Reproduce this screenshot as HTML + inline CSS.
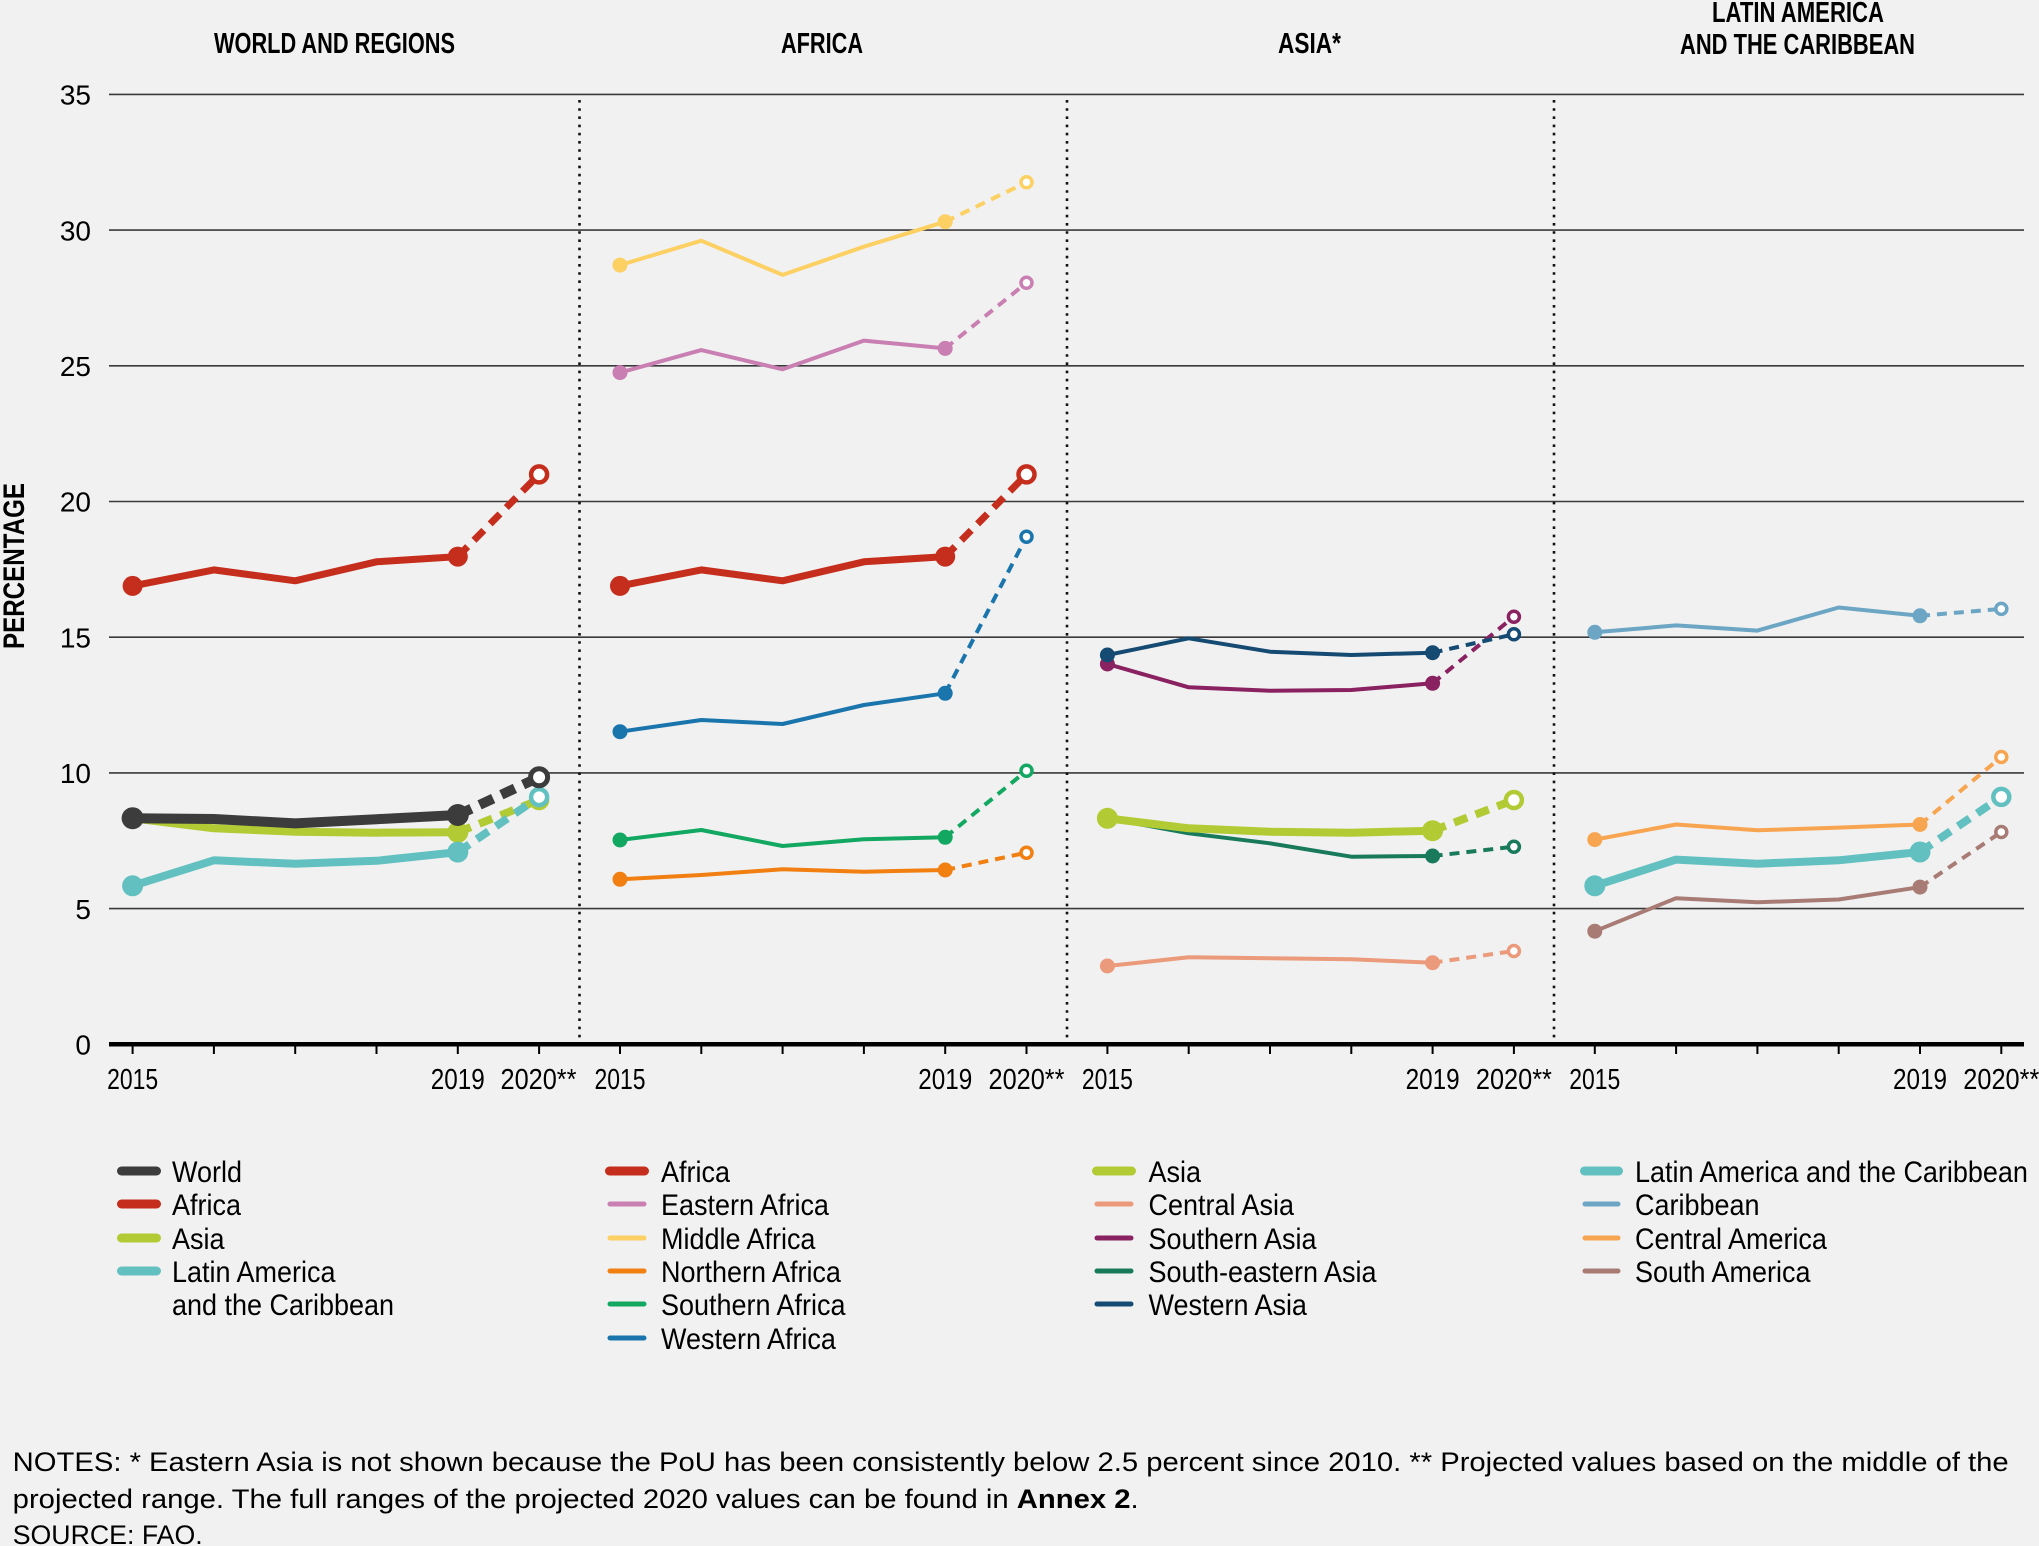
<!DOCTYPE html>
<html>
<head>
<meta charset="utf-8">
<style>
  html,body{margin:0;padding:0;background:#f1f1f1;}
  svg{display:block;}
  text{font-family:"Liberation Sans", Arial, sans-serif;fill:#000;}
</style>
</head>
<body>
<svg width="2039" height="1546" viewBox="0 0 2039 1546" xmlns="http://www.w3.org/2000/svg">
  <rect x="0" y="0" width="2039" height="1546" fill="#f1f1f1"/>

  <!-- Titles -->
  <g font-weight="bold" font-size="29">
    <text x="214" y="53" textLength="241" lengthAdjust="spacingAndGlyphs">WORLD AND REGIONS</text>
    <text x="781" y="53" textLength="82" lengthAdjust="spacingAndGlyphs">AFRICA</text>
    <text x="1278" y="53" textLength="63" lengthAdjust="spacingAndGlyphs">ASIA*</text>
    <text x="1712" y="22" textLength="172" lengthAdjust="spacingAndGlyphs">LATIN AMERICA</text>
    <text x="1680" y="54" textLength="235" lengthAdjust="spacingAndGlyphs">AND THE CARIBBEAN</text>
  </g>

  <!-- Y axis title -->
  <text transform="translate(24,566) rotate(-90)" x="-83" y="0" font-weight="bold" font-size="30" textLength="166" lengthAdjust="spacingAndGlyphs">PERCENTAGE</text>

  <!-- Gridlines -->
  <g stroke="#3a3a3a" stroke-width="1.6">
    <line x1="109" y1="94.4" x2="2024" y2="94.4"/>
    <line x1="109" y1="230.1" x2="2024" y2="230.1"/>
    <line x1="109" y1="365.8" x2="2024" y2="365.8"/>
    <line x1="109" y1="501.5" x2="2024" y2="501.5"/>
    <line x1="109" y1="637.2" x2="2024" y2="637.2"/>
    <line x1="109" y1="772.9" x2="2024" y2="772.9"/>
    <line x1="109" y1="908.6" x2="2024" y2="908.6"/>
  </g>

  <!-- Y labels -->
  <g font-size="28" text-anchor="end">
    <text x="91" y="104.6">35</text>
    <text x="91" y="240.3">30</text>
    <text x="91" y="376">25</text>
    <text x="91" y="511.7">20</text>
    <text x="91" y="647.4">15</text>
    <text x="91" y="783.1">10</text>
    <text x="91" y="918.8">5</text>
    <text x="91" y="1054.5">0</text>
  </g>

  <!-- Dotted separators -->
  <g stroke="#111" stroke-width="2.6" stroke-dasharray="2.6 5.6">
    <line x1="579.5" y1="100" x2="579.5" y2="1038"/>
    <line x1="1067" y1="100" x2="1067" y2="1038"/>
    <line x1="1554" y1="100" x2="1554" y2="1038"/>
  </g>

  <!-- Axis -->
  <line x1="109" y1="1044.3" x2="2024" y2="1044.3" stroke="#000" stroke-width="4.5"/>
  <g stroke="#000" stroke-width="2">
    <line x1="132.6" y1="1044" x2="132.6" y2="1054"/><line x1="213.9" y1="1044" x2="213.9" y2="1054"/><line x1="295.2" y1="1044" x2="295.2" y2="1054"/><line x1="376.5" y1="1044" x2="376.5" y2="1054"/><line x1="457.8" y1="1044" x2="457.8" y2="1054"/><line x1="539.1" y1="1044" x2="539.1" y2="1054"/>
    <line x1="620" y1="1044" x2="620" y2="1054"/><line x1="701.3" y1="1044" x2="701.3" y2="1054"/><line x1="782.6" y1="1044" x2="782.6" y2="1054"/><line x1="863.9" y1="1044" x2="863.9" y2="1054"/><line x1="945.2" y1="1044" x2="945.2" y2="1054"/><line x1="1026.5" y1="1044" x2="1026.5" y2="1054"/>
    <line x1="1107.4" y1="1044" x2="1107.4" y2="1054"/><line x1="1188.7" y1="1044" x2="1188.7" y2="1054"/><line x1="1270" y1="1044" x2="1270" y2="1054"/><line x1="1351.3" y1="1044" x2="1351.3" y2="1054"/><line x1="1432.6" y1="1044" x2="1432.6" y2="1054"/><line x1="1513.9" y1="1044" x2="1513.9" y2="1054"/>
    <line x1="1594.8" y1="1044" x2="1594.8" y2="1054"/><line x1="1676.1" y1="1044" x2="1676.1" y2="1054"/><line x1="1757.4" y1="1044" x2="1757.4" y2="1054"/><line x1="1838.7" y1="1044" x2="1838.7" y2="1054"/><line x1="1920" y1="1044" x2="1920" y2="1054"/><line x1="2001.3" y1="1044" x2="2001.3" y2="1054"/>
  </g>

  <!-- X labels -->
  <g font-size="29">
    <text x="107.1" y="1089" textLength="51" lengthAdjust="spacingAndGlyphs">2015</text>
    <text x="430.8" y="1089" textLength="54" lengthAdjust="spacingAndGlyphs">2019</text>
    <text x="500.5" y="1089" textLength="76" lengthAdjust="spacingAndGlyphs">2020**</text>
    <text x="594.5" y="1089" textLength="51" lengthAdjust="spacingAndGlyphs">2015</text>
    <text x="918.2" y="1089" textLength="54" lengthAdjust="spacingAndGlyphs">2019</text>
    <text x="988.5" y="1089" textLength="76" lengthAdjust="spacingAndGlyphs">2020**</text>
    <text x="1081.9" y="1089" textLength="51" lengthAdjust="spacingAndGlyphs">2015</text>
    <text x="1405.6" y="1089" textLength="54" lengthAdjust="spacingAndGlyphs">2019</text>
    <text x="1475.9" y="1089" textLength="76" lengthAdjust="spacingAndGlyphs">2020**</text>
    <text x="1569.3" y="1089" textLength="51" lengthAdjust="spacingAndGlyphs">2015</text>
    <text x="1893" y="1089" textLength="54" lengthAdjust="spacingAndGlyphs">2019</text>
    <text x="1963.3" y="1089" textLength="76" lengthAdjust="spacingAndGlyphs">2020**</text>
  </g>

  <!-- ============ SERIES ============ -->
  <g fill="none" stroke-linejoin="round">

  <!-- Panel 1: World and regions -->
  <g stroke="#c52d1c">
    <polyline stroke-width="7" points="132.6,585.9 213.9,569.9 295.2,580.8 376.5,561.8 457.8,556.6"/>
    <line stroke-width="7" stroke-dasharray="14 9" x1="457.8" y1="556.6" x2="539.1" y2="474.4"/>
    <circle cx="132.6" cy="585.9" r="10" fill="#c52d1c" stroke="none"/>
    <circle cx="457.8" cy="556.6" r="10" fill="#c52d1c" stroke="none"/>
    <circle cx="539.1" cy="474.4" r="8" fill="#fff" stroke-width="4.5"/>
  </g>
  <g stroke="#b2cb34">
    <polyline stroke-width="8" points="132.6,818.3 213.9,828.3 295.2,831.7 376.5,832.7 457.8,832.3"/>
    <line stroke-width="8" stroke-dasharray="14 9" x1="457.8" y1="832.3" x2="539.1" y2="800"/>
    <circle cx="132.6" cy="818.3" r="10.5" fill="#b2cb34" stroke="none"/>
    <circle cx="457.8" cy="832.3" r="10.5" fill="#b2cb34" stroke="none"/>
    <circle cx="539.1" cy="800" r="8" fill="#fff" stroke-width="4.5"/>
  </g>
  <g stroke="#62c1c0">
    <polyline stroke-width="8" points="132.6,885.8 213.9,860.3 295.2,863.8 376.5,860.8 457.8,852.1"/>
    <line stroke-width="8" stroke-dasharray="14 9" x1="457.8" y1="852.1" x2="539.1" y2="797.1"/>
    <circle cx="132.6" cy="885.8" r="10.5" fill="#62c1c0" stroke="none"/>
    <circle cx="457.8" cy="852.1" r="10.5" fill="#62c1c0" stroke="none"/>
    <circle cx="539.1" cy="797.1" r="8" fill="#fff" stroke-width="4.5"/>
  </g>
  <g stroke="#3c3c3c">
    <polyline stroke-width="10" points="132.6,818.2 213.9,819 295.2,823.4 376.5,819.2 457.8,815"/>
    <line stroke-width="10" stroke-dasharray="15 9" x1="457.8" y1="815" x2="539.1" y2="777.2"/>
    <circle cx="132.6" cy="818.2" r="11" fill="#3c3c3c" stroke="none"/>
    <circle cx="457.8" cy="815" r="11" fill="#3c3c3c" stroke="none"/>
    <circle cx="539.1" cy="777.2" r="8.5" fill="#fff" stroke-width="5"/>
  </g>

  <!-- Panel 2: Africa -->
  <g stroke="#fcd062">
    <polyline stroke-width="4" points="620,265.1 701.3,240.7 782.6,274.9 863.9,246.7 945.2,221.7"/>
    <line stroke-width="4" stroke-dasharray="10 7" x1="945.2" y1="221.7" x2="1026.5" y2="182.3"/>
    <circle cx="620" cy="265.1" r="7.5" fill="#fcd062" stroke="none"/>
    <circle cx="945.2" cy="221.7" r="7.5" fill="#fcd062" stroke="none"/>
    <circle cx="1026.5" cy="182.3" r="5.5" fill="#fff" stroke-width="3.5"/>
  </g>
  <g stroke="#c97fb2">
    <polyline stroke-width="4" points="620,372.6 701.3,350.1 782.6,369.3 863.9,340.6 945.2,348.4"/>
    <line stroke-width="4" stroke-dasharray="10 7" x1="945.2" y1="348.4" x2="1026.5" y2="282.8"/>
    <circle cx="620" cy="372.6" r="7.5" fill="#c97fb2" stroke="none"/>
    <circle cx="945.2" cy="348.4" r="7.5" fill="#c97fb2" stroke="none"/>
    <circle cx="1026.5" cy="282.8" r="5.5" fill="#fff" stroke-width="3.5"/>
  </g>
  <g stroke="#c52d1c">
    <polyline stroke-width="7" points="620,585.9 701.3,569.9 782.6,580.8 863.9,561.8 945.2,556.6"/>
    <line stroke-width="7" stroke-dasharray="14 9" x1="945.2" y1="556.6" x2="1026.5" y2="474.4"/>
    <circle cx="620" cy="585.9" r="10" fill="#c52d1c" stroke="none"/>
    <circle cx="945.2" cy="556.6" r="10" fill="#c52d1c" stroke="none"/>
    <circle cx="1026.5" cy="474.4" r="8" fill="#fff" stroke-width="4.5"/>
  </g>
  <g stroke="#1a75ad">
    <polyline stroke-width="4" points="620,731.7 701.3,720 782.6,724 863.9,705 945.2,693.3"/>
    <line stroke-width="4" stroke-dasharray="10 7" x1="945.2" y1="693.3" x2="1026.5" y2="536.7"/>
    <circle cx="620" cy="731.7" r="7.5" fill="#1a75ad" stroke="none"/>
    <circle cx="945.2" cy="693.3" r="7.5" fill="#1a75ad" stroke="none"/>
    <circle cx="1026.5" cy="536.7" r="5.5" fill="#fff" stroke-width="3.5"/>
  </g>
  <g stroke="#13a862">
    <polyline stroke-width="4" points="620,840 701.3,830 782.6,846 863.9,839.3 945.2,837.3"/>
    <line stroke-width="4" stroke-dasharray="10 7" x1="945.2" y1="837.3" x2="1026.5" y2="770.7"/>
    <circle cx="620" cy="840" r="7.5" fill="#13a862" stroke="none"/>
    <circle cx="945.2" cy="837.3" r="7.5" fill="#13a862" stroke="none"/>
    <circle cx="1026.5" cy="770.7" r="5.5" fill="#fff" stroke-width="3.5"/>
  </g>
  <g stroke="#f17f12">
    <polyline stroke-width="4" points="620,879.3 701.3,875 782.6,869.3 863.9,871.7 945.2,870"/>
    <line stroke-width="4" stroke-dasharray="10 7" x1="945.2" y1="870" x2="1026.5" y2="852.7"/>
    <circle cx="620" cy="879.3" r="7.5" fill="#f17f12" stroke="none"/>
    <circle cx="945.2" cy="870" r="7.5" fill="#f17f12" stroke="none"/>
    <circle cx="1026.5" cy="852.7" r="5.5" fill="#fff" stroke-width="3.5"/>
  </g>

  <!-- Panel 3: Asia -->
  <g stroke="#eb9b7b">
    <polyline stroke-width="4" points="1107.4,966 1188.7,957.3 1270,958.3 1351.3,959.3 1432.6,962.7"/>
    <line stroke-width="4" stroke-dasharray="10 7" x1="1432.6" y1="962.7" x2="1513.9" y2="951"/>
    <circle cx="1107.4" cy="966" r="7.5" fill="#eb9b7b" stroke="none"/>
    <circle cx="1432.6" cy="962.7" r="7.5" fill="#eb9b7b" stroke="none"/>
    <circle cx="1513.9" cy="951" r="5.5" fill="#fff" stroke-width="3.5"/>
  </g>
  <g stroke="#197a5b">
    <polyline stroke-width="4" points="1107.4,818.3 1188.7,833.3 1270,843.3 1351.3,856.7 1432.6,856"/>
    <line stroke-width="4" stroke-dasharray="10 7" x1="1432.6" y1="856" x2="1513.9" y2="846.7"/>
    <circle cx="1432.6" cy="856" r="7.5" fill="#197a5b" stroke="none"/>
    <circle cx="1513.9" cy="846.7" r="5.5" fill="#fff" stroke-width="3.5"/>
  </g>
  <g stroke="#b2cb34">
    <polyline stroke-width="8" points="1107.4,818.3 1188.7,828.3 1270,831.7 1351.3,832.7 1432.6,830.7"/>
    <line stroke-width="8" stroke-dasharray="14 9" x1="1432.6" y1="830.7" x2="1513.9" y2="800"/>
    <circle cx="1107.4" cy="818.3" r="10.5" fill="#b2cb34" stroke="none"/>
    <circle cx="1432.6" cy="830.7" r="10.5" fill="#b2cb34" stroke="none"/>
    <circle cx="1513.9" cy="800" r="8" fill="#fff" stroke-width="4.5"/>
  </g>
  <g stroke="#8a2160">
    <polyline stroke-width="4" points="1107.4,664 1188.7,687.3 1270,690.7 1351.3,690 1432.6,683.3"/>
    <line stroke-width="4" stroke-dasharray="10 7" x1="1432.6" y1="683.3" x2="1513.9" y2="616.7"/>
    <circle cx="1107.4" cy="664" r="7.5" fill="#8a2160" stroke="none"/>
    <circle cx="1432.6" cy="683.3" r="7.5" fill="#8a2160" stroke="none"/>
    <circle cx="1513.9" cy="616.7" r="5.5" fill="#fff" stroke-width="3.5"/>
  </g>
  <g stroke="#154a72">
    <polyline stroke-width="4" points="1107.4,655 1188.7,638.3 1270,651.7 1351.3,655 1432.6,652.7"/>
    <line stroke-width="4" stroke-dasharray="10 7" x1="1432.6" y1="652.7" x2="1513.9" y2="634.3"/>
    <circle cx="1107.4" cy="655" r="7.5" fill="#154a72" stroke="none"/>
    <circle cx="1432.6" cy="652.7" r="7.5" fill="#154a72" stroke="none"/>
    <circle cx="1513.9" cy="634.3" r="5.5" fill="#fff" stroke-width="3.5"/>
  </g>

  <!-- Panel 4: LAC -->
  <g stroke="#6ca6c4">
    <polyline stroke-width="4" points="1594.8,632.3 1676.1,625.4 1757.4,630.6 1838.7,607.5 1920,615.8"/>
    <line stroke-width="4" stroke-dasharray="10 7" x1="1920" y1="615.8" x2="2001.3" y2="608.9"/>
    <circle cx="1594.8" cy="632.3" r="7.5" fill="#6ca6c4" stroke="none"/>
    <circle cx="1920" cy="615.8" r="7.5" fill="#6ca6c4" stroke="none"/>
    <circle cx="2001.3" cy="608.9" r="5.5" fill="#fff" stroke-width="3.5"/>
  </g>
  <g stroke="#f8a552">
    <polyline stroke-width="4" points="1594.8,839.6 1676.1,824.5 1757.4,830.3 1838.7,827.6 1920,824.5"/>
    <line stroke-width="4" stroke-dasharray="10 7" x1="1920" y1="824.5" x2="2001.3" y2="757"/>
    <circle cx="1594.8" cy="839.6" r="7.5" fill="#f8a552" stroke="none"/>
    <circle cx="1920" cy="824.5" r="7.5" fill="#f8a552" stroke="none"/>
    <circle cx="2001.3" cy="757" r="5.5" fill="#fff" stroke-width="3.5"/>
  </g>
  <g stroke="#a87c75">
    <polyline stroke-width="4" points="1594.8,931.2 1676.1,898.2 1757.4,902.3 1838.7,899.5 1920,887.1"/>
    <line stroke-width="4" stroke-dasharray="10 7" x1="1920" y1="887.1" x2="2001.3" y2="832"/>
    <circle cx="1594.8" cy="931.2" r="7.5" fill="#a87c75" stroke="none"/>
    <circle cx="1920" cy="887.1" r="7.5" fill="#a87c75" stroke="none"/>
    <circle cx="2001.3" cy="832" r="5.5" fill="#fff" stroke-width="3.5"/>
  </g>
  <g stroke="#62c1c0">
    <polyline stroke-width="8" points="1594.8,885.8 1676.1,859.6 1757.4,863.7 1838.7,860.3 1920,852"/>
    <line stroke-width="8" stroke-dasharray="14 9" x1="1920" y1="852" x2="2001.3" y2="796.9"/>
    <circle cx="1594.8" cy="885.8" r="10.5" fill="#62c1c0" stroke="none"/>
    <circle cx="1920" cy="852" r="10.5" fill="#62c1c0" stroke="none"/>
    <circle cx="2001.3" cy="796.9" r="8" fill="#fff" stroke-width="4.5"/>
  </g>
  </g>

  <!-- ============ LEGEND ============ -->
  <g stroke-linecap="round">
    <line x1="121.5" y1="1171" x2="156.5" y2="1171" stroke="#3c3c3c" stroke-width="9"/>
    <line x1="121.5" y1="1204" x2="156.5" y2="1204" stroke="#c52d1c" stroke-width="9"/>
    <line x1="121.5" y1="1238" x2="156.5" y2="1238" stroke="#b2cb34" stroke-width="9"/>
    <line x1="121.5" y1="1271" x2="156.5" y2="1271" stroke="#62c1c0" stroke-width="9"/>

    <line x1="609.5" y1="1171" x2="644.5" y2="1171" stroke="#c52d1c" stroke-width="9"/>
    <line x1="610" y1="1204" x2="644" y2="1204" stroke="#c97fb2" stroke-width="5"/>
    <line x1="610" y1="1238" x2="644" y2="1238" stroke="#fcd062" stroke-width="5"/>
    <line x1="610" y1="1271" x2="644" y2="1271" stroke="#f17f12" stroke-width="5"/>
    <line x1="610" y1="1304" x2="644" y2="1304" stroke="#13a862" stroke-width="5"/>
    <line x1="610" y1="1338" x2="644" y2="1338" stroke="#1a75ad" stroke-width="5"/>

    <line x1="1096.5" y1="1171" x2="1131.5" y2="1171" stroke="#b2cb34" stroke-width="9"/>
    <line x1="1097" y1="1204" x2="1131" y2="1204" stroke="#eb9b7b" stroke-width="5"/>
    <line x1="1097" y1="1238" x2="1131" y2="1238" stroke="#8a2160" stroke-width="5"/>
    <line x1="1097" y1="1271" x2="1131" y2="1271" stroke="#197a5b" stroke-width="5"/>
    <line x1="1097" y1="1304" x2="1131" y2="1304" stroke="#154a72" stroke-width="5"/>

    <line x1="1584.5" y1="1171" x2="1618.5" y2="1171" stroke="#62c1c0" stroke-width="9"/>
    <line x1="1585" y1="1204" x2="1618" y2="1204" stroke="#6ca6c4" stroke-width="5"/>
    <line x1="1585" y1="1238" x2="1618" y2="1238" stroke="#f8a552" stroke-width="5"/>
    <line x1="1585" y1="1271" x2="1618" y2="1271" stroke="#a87c75" stroke-width="5"/>
  </g>

  <g font-size="30">
    <g transform="translate(172,0) scale(0.9,1)">
      <text x="0" y="1182">World</text>
      <text x="0" y="1215">Africa</text>
      <text x="0" y="1249">Asia</text>
      <text x="0" y="1282">Latin America</text>
      <text x="0" y="1315">and the Caribbean</text>
    </g>
    <g transform="translate(661,0) scale(0.9,1)">
      <text x="0" y="1182">Africa</text>
      <text x="0" y="1215">Eastern Africa</text>
      <text x="0" y="1249">Middle Africa</text>
      <text x="0" y="1282">Northern Africa</text>
      <text x="0" y="1315">Southern Africa</text>
      <text x="0" y="1349">Western Africa</text>
    </g>
    <g transform="translate(1148.5,0) scale(0.9,1)">
      <text x="0" y="1182">Asia</text>
      <text x="0" y="1215">Central Asia</text>
      <text x="0" y="1249">Southern Asia</text>
      <text x="0" y="1282">South-eastern Asia</text>
      <text x="0" y="1315">Western Asia</text>
    </g>
    <g transform="translate(1635,0) scale(0.9,1)">
      <text x="0" y="1182">Latin America and the Caribbean</text>
      <text x="0" y="1215">Caribbean</text>
      <text x="0" y="1249">Central America</text>
      <text x="0" y="1282">South America</text>
    </g>
  </g>

  <!-- Notes -->
  <g font-size="27">
    <text x="12.7" y="1471" textLength="1996" lengthAdjust="spacingAndGlyphs">NOTES: * Eastern Asia is not shown because the PoU has been consistently below 2.5 percent since 2010. ** Projected values based on the middle of the</text>
    <text x="12.7" y="1508" textLength="1126" lengthAdjust="spacingAndGlyphs">projected range. The full ranges of the projected 2020 values can be found in <tspan font-weight="bold">Annex 2</tspan>.</text>
    <text x="12.7" y="1544" textLength="190" lengthAdjust="spacingAndGlyphs">SOURCE: FAO.</text>
  </g>
</svg>
</body>
</html>
